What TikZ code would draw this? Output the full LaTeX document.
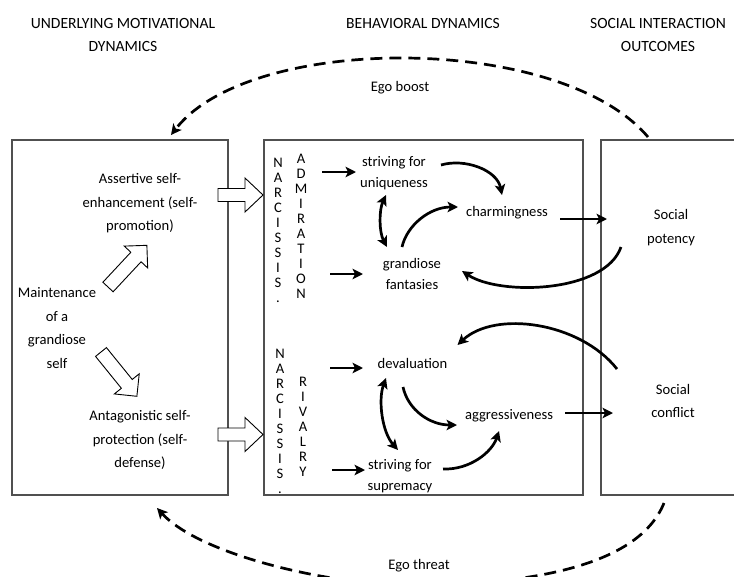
\documentclass[tikz,border=0pt]{standalone}
\usepackage{fontspec}
\setmainfont{Carlito}
\usetikzlibrary{arrows.meta,calc}
\definecolor{boxgray}{HTML}{505050}
\begin{document}
\begin{tikzpicture}[x=1pt,y=-1pt,
  txt/.style={font=\fontsize{14.6}{21}\selectfont, align=center, inner sep=0pt},
  txtw/.style={font=\fontsize{14.6}{23.5}\selectfont, align=center, inner sep=0pt},
  col/.style={font=\fontsize{14.6}{15.1}\selectfont, align=center, inner sep=0pt, anchor=north},
  hdr/.style={font=\fontsize{15.6}{23}\selectfont, align=center, inner sep=0pt},
  panel/.style={draw=boxgray, line width=1.1pt},
  arr/.style={line width=2.7pt, -{Stealth[length=10.5pt,width=10.5pt,inset=2.5pt]}},
  darr/.style={line width=2.7pt, {Stealth[length=10.5pt,width=10.5pt,inset=2.5pt]}-{Stealth[length=10.5pt,width=10.5pt,inset=2.5pt]}},
  egoarc/.style={line width=2.7pt, dash pattern=on 12pt off 7pt, -{Stealth[length=10.5pt,width=10.5pt,inset=2.5pt]}},
  blk/.style={draw=black, line width=0.9pt, fill=white},
  hblock/.pic={\draw[blk] (0,-6.5) -- (27,-6.5) -- (27,-17) -- (45,0) -- (27,17) -- (27,6.5) -- (0,6.5) -- cycle;},
  dblock/.pic={\draw[blk] (0,-7) -- (41,-7) -- (41,-16) -- (57,0) -- (41,16) -- (41,7) -- (0,7) -- cycle;}
]
\fill[white] (0,0) rectangle (734,576);
\useasboundingbox (0,0) rectangle (734,576);

% headers
\node[hdr] (h1) at (123,34.5) {UNDERLYING MOTIVATIONAL\\DYNAMICS};
\node[hdr] (h2) at (423,23) {BEHAVIORAL DYNAMICS};
\node[hdr] (h3) at (658,34.5) {SOCIAL INTERACTION\\OUTCOMES};

% panels
\draw[panel] (12,140) rectangle (228,495);
\draw[panel] (264,140) rectangle (583,495);
\draw[panel] (740,140) -- (601,140) -- (601,495) -- (740,495);

% left panel
\node[txtw] (ase) at (140,203.5) {Assertive self-\\enhancement (self-\\promotion)};
\node[txtw] (mgs) at (57,328) {Maintenance\\of a\\grandiose\\self};
\node[txtw] (asp) at (140,440) {Antagonistic self-\\protection (self-\\defense)};

\pic[rotate=47] at (108,287) {dblock};
\pic[rotate=-51] at (101,352) {dblock};
\pic at (218,195) {hblock};
\pic at (218,434.5) {hblock};

% columns
\node[col] (n1) at (278,157.5) {N\\A\\R\\C\\I\\S\\S\\I\\S\\.};
\node[col] (a1) at (301,153.5) {A\\D\\M\\I\\R\\A\\T\\I\\O\\N};
\node[col] (n2) at (280,348.5) {N\\A\\R\\C\\I\\S\\S\\I\\S\\.};
\node[col] (r2) at (303,376.5) {R\\I\\V\\A\\L\\R\\Y};

% middle texts
\node[txt] (su) at (394,173.5) {striving for\\uniqueness};
\node[txt] (gf) at (412,273.5) {grandiose\\fantasies};
\node[txt] (ch) at (507,213) {charmingness};
\node[txt] (dv) at (412.5,363) {devaluation};
\node[txt] (ss) at (400,476.5) {striving for\\supremacy};
\node[txt] (ag) at (509,416) {aggressiveness};

% right texts
\node[txtw] (sp) at (671,227.5) {Social\\potency};
\node[txtw] (sc) at (673,401) {Social\\conflict};

\node[txt] (eb) at (400,88) {Ego boost};
\node[txt] (et) at (419,566) {Ego threat};

% free ends
\coordinate (p1) at (322,172);
\coordinate (p2) at (330,274);
\coordinate (p3) at (330,368);
\coordinate (p4) at (332,470);
\coordinate (t1) at (648,137);
\coordinate (t2) at (171,135);
\coordinate (b1) at (664,503);
\coordinate (bm) at (410,585);
\coordinate (b2) at (157,508);

% upper connectors
\draw[arr] (p1) -- ($(su.center)+(-38,-1.5)$);
\draw[arr] (p2) -- ($(gf.center)+(-49,0.5)$);
\draw[darr] ($(su.center)+(-8,21.5)$) .. controls +(-7,15) and +(-8,-15) .. ($(gf.center)+(-25,-26.5)$);
\draw[arr] ($(gf.center)+(-10,-26.5)$) .. controls +(5,-22) and +(-28,0) .. ($(ch.center)+(-49,-6)$);
\draw[arr] ($(su.center)+(47,-8.5)$) .. controls +(24,-7) and +(-5,-25) .. ($(ch.center)+(-5,-18)$);
\draw[arr] ($(ch.center)+(53,6)$) -- ($(sp.center)+(-64,-8.5)$);
\draw[arr] ($(sp.center)+(-50,19.5)$) .. controls +(-16,46) and +(38,25) .. ($(gf.center)+(50,-2.5)$);

% lower connectors
\draw[arr] (p3) -- ($(dv.center)+(-49.5,5)$);
\draw[arr] (p4) -- ($(ss.center)+(-35,-6.5)$);
\draw[darr] ($(dv.center)+(-26.5,15)$) .. controls +(-8,22) and +(-16,-18) .. ($(ss.center)+(-2,-26.5)$);
\draw[arr] ($(dv.center)+(-9.5,24)$) .. controls +(5,23) and +(-27,0) .. ($(ag.center)+(-52,9)$);
\draw[arr] ($(ss.center)+(43,-7.5)$) .. controls +(27,1) and +(-7,21) .. ($(ag.center)+(-10,15)$);
\draw[arr] ($(ag.center)+(56,-3)$) -- ($(sc.center)+(-60,12)$);
\draw[arr] ($(sc.center)+(-56,-32)$) .. controls +(-37,-47) and +(37.5,-35) .. ($(dv.center)+(45,-18)$);

% ego arcs
\draw[egoarc] (t1) .. controls (560,33) and (250,33) .. (t2);
\draw[egoarc] (b1) .. controls (635,575) and (500,585) .. (bm) .. controls (330,585) and (200,555) .. (b2);
\end{tikzpicture}
\end{document}
